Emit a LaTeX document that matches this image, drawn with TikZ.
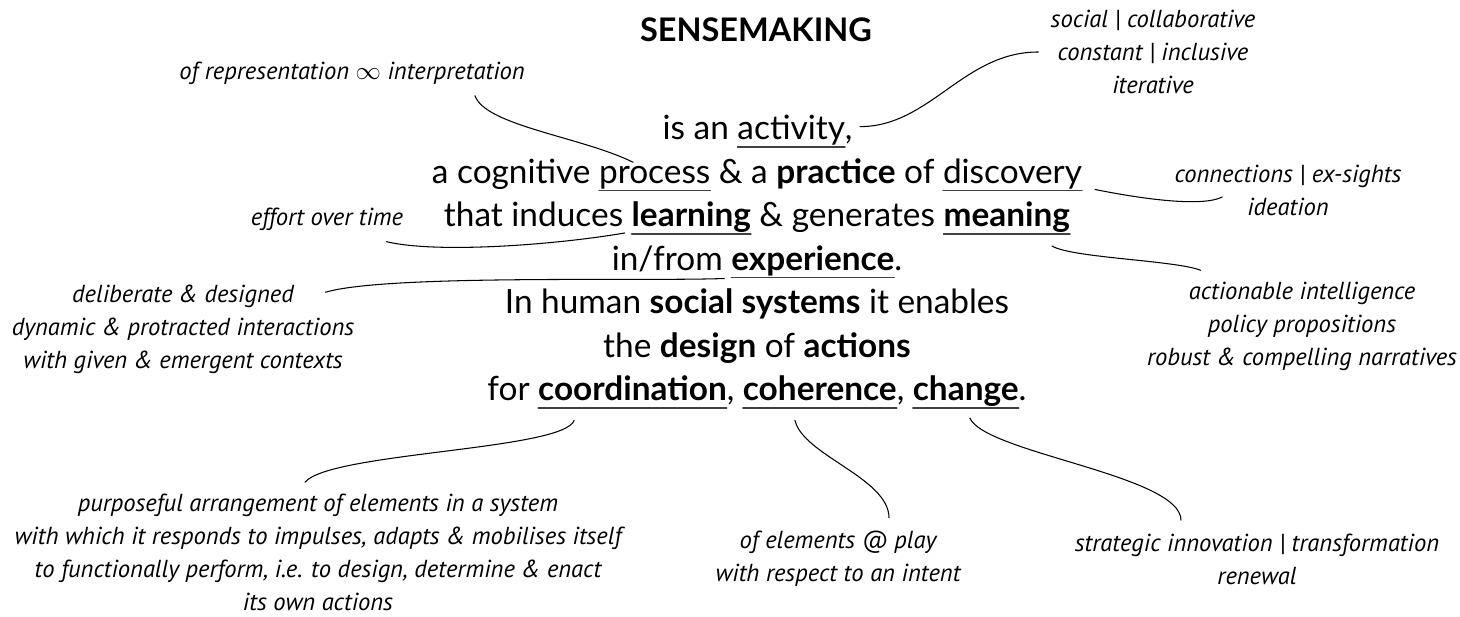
\documentclass[tikz,border=0pt]{standalone}
\usepackage{fontspec}
\setmainfont{Lato}
\newfontfamily\notefont{PT Sans}
\usetikzlibrary{positioning}

\tikzset{
  row/.style={inner sep=0pt, outer sep=0pt, anchor=base, font=\fontsize{19}{22}\selectfont},
  txt/.style={inner sep=0pt, outer sep=0pt, anchor=base west, font=\fontsize{19}{22}\selectfont},
  note/.style={align=center, inner sep=0pt, font=\notefont\itshape\fontsize{14}{18.8}\selectfont},
  uline/.style={line width=0.8pt, black!75, line cap=round},
  link/.style={line width=0.6pt, line cap=round},
}

\begin{document}
\begin{tikzpicture}[x=0.02cm, y=-0.02cm]
    \useasboundingbox (0,0) rectangle (1460,617);
    \node[font=\bfseries\fontsize{18.5}{22}\selectfont] (title) at (756,30) {SENSEMAKING};

    % the definition, one row at a time
    \node[row] (r1) at (757,140) {\phantom{is an activity,}};
    \node[txt] (r1a) at (r1.base west) {is an\ \null};
    \node[txt] (act) at (r1a.base east) {activity};
    \node[txt] (r1b) at (act.base east) {,};

    \node[row] (r2) at (757,183.5) {\phantom{a cognitive process \& a \textbf{practice} of discovery}};
    \node[txt] (r2a) at (r2.base west) {a cognitive\ \null};
    \node[txt] (proc) at (r2a.base east) {process};
    \node[txt] (r2b) at (proc.base east) {\null\ \& a \textbf{practice} of\ \null};
    \node[txt] (disc) at (r2b.base east) {discovery};

    \node[row] (r3) at (757,227) {\phantom{that induces \textbf{learning} \& generates \textbf{meaning}}};
    \node[txt] (r3a) at (r3.base west) {that induces\ \null};
    \node[txt] (learn) at (r3a.base east) {\textbf{learning}};
    \node[txt] (r3b) at (learn.base east) {\null\ \& generates\ \null};
    \node[txt] (mean) at (r3b.base east) {\textbf{meaning}};

    \node[row] (r4) at (757,270.5) {\phantom{in/from \textbf{experience}.}};
    \node[txt] (r4a) at (r4.base west) {in/from\ \null};
    \node[txt] (exper) at (r4a.base east) {\textbf{experience}};
    \node[txt] (r4b) at (exper.base east) {.};

    \node[row] (r5) at (757,314) {In human \textbf{social systems} it enables};
    \node[row] (r6) at (757,357.5) {the \textbf{design} of \textbf{actions}};

    \node[row] (r7) at (757,401) {\phantom{for \textbf{coordination}, \textbf{coherence}, \textbf{change}.}};
    \node[txt] (r7a) at (r7.base west) {for\ \null};
    \node[txt] (coord) at (r7a.base east) {\textbf{coordination}};
    \node[txt] (r7b) at (coord.base east) {,\ \null};
    \node[txt] (coher) at (r7b.base east) {\textbf{coherence}};
    \node[txt] (r7c) at (coher.base east) {,\ \null};
    \node[txt] (chg) at (r7c.base east) {\textbf{change}};
    \node[txt] (r7d) at (chg.base east) {.};

    \foreach \w in {act,proc,disc,learn,mean,exper,coord,coher,chg}
        \draw[uline] ([yshift=-4pt]\w.base west) -- ([yshift=-4pt]\w.base east);

    % side notes
    \node[note] (rep) at (352,73) {of representation $\infty$ interpretation};
    \node[note] (soc) at (1153,52) {social | collaborative\\constant | inclusive\\iterative};
    \node[note] (conn) at (1288,190) {connections | ex-sights\\ideation};
    \node[note] (eff) at (327,219) {effort over time};
    \node[note] (delib) at (183,329) {deliberate \& designed\\dynamic \& protracted interactions\\with given \& emergent contexts};
    \node[note] (intel) at (1302,326) {actionable intelligence\\policy propositions\\robust \& compelling narratives};
    \node[note] (purp) at (318,552) {purposeful arrangement of elements in a system\\with which it responds to impulses, adapts \& mobilises itself\\to functionally perform, i.e. to design, determine \& enact\\its own actions};
    \node[note] (elem) at (838,559) {of elements @ play\\with respect to an intent};
    \node[note] (strat) at (1257,559) {strategic innovation | transformation\\renewal};

    % links between words and notes
    \draw[link] ([shift={(123,11)}]rep.south) .. controls +(10,30) and +(-50,-25) .. ([shift={(34,-4)}]proc.north west);
    \draw[link] ([shift={(15,-4)}]act.east) .. controls +(70,0) and +(-75,0) .. ([shift={(-12,0)}]soc.west);
    \draw[link] ([shift={(13,6)}]disc.base east) .. controls +(50,10) and +(-20,10) .. ([shift={(48,7)}]conn.west);
    \draw[link] ([shift={(-18,13)}]mean.south east) .. controls +(20,12) and +(-25,-10) .. ([shift={(54,-11)}]intel.north west);
    \draw[link] ([shift={(-17,11)}]eff.south east) .. controls +(50,12) and +(-70,12) .. ([shift={(-7,6)}]learn.base west);
    \draw[link] ([shift={(-29,8)}]delib.north east) .. controls +(60,-18) and +(-80,3) .. ([shift={(-7,8)}]exper.base west);
    \draw[link] ([shift={(36,19)}]coord.south west) .. controls +(-10,30) and +(25,-30) .. ([shift={(-13,-11)}]purp.north);
    \draw[link] ([shift={(52,19)}]coher.south west) .. controls +(8,35) and +(0,-40) .. ([shift={(51,-13)}]elem.north);
    \draw[link] ([shift={(57,11)}]chg.south west) .. controls +(15,35) and +(0,-45) .. ([shift={(-76,-13)}]strat.north);
\end{tikzpicture}
\end{document}
